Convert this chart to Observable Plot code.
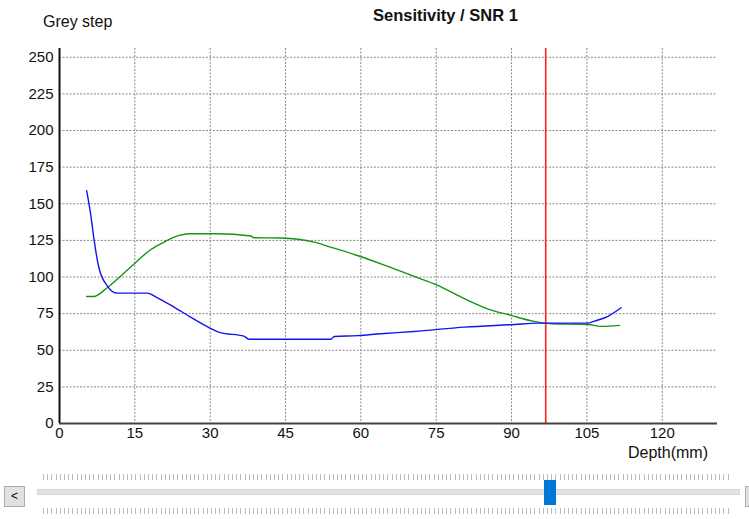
<!DOCTYPE html>
<html>
<head>
<meta charset="utf-8">
<script src="https://cdn.jsdelivr.net/npm/d3@7"></script>
<script src="https://cdn.jsdelivr.net/npm/@observablehq/plot@0.6"></script>
<style>
  html, body { margin: 0; padding: 0; background: #fff; }
  #wrap { position: relative; width: 749px; height: 519px; overflow: hidden; font-family: "Liberation Sans", Arial, sans-serif; }
  .lbl { position: absolute; font-size: 16px; line-height: 16px; color: #111; white-space: nowrap; }
  #title { font-weight: bold; font-size: 16.5px; }
  #chart { position: absolute; left: 0; top: 0; }
  .ticks { position: absolute; left: 43px; width: 688px; height: 6px;
    background: repeating-linear-gradient(to right, #bbb 0 1px, transparent 1px 4.2px); }
  #track { position: absolute; left: 37px; top: 489px; width: 703px; height: 6px; background: #e3e3e3; border: 1px solid #d6d6d6; box-sizing: border-box; }
  #thumb { position: absolute; left: 544px; top: 480px; width: 12px; height: 25px; background: #0078d7; }
  .btn { position: absolute; top: 486px; width: 21px; height: 21px; box-sizing: border-box; border: 1px solid #adadad; background: #e1e1e1; font-size: 12px; line-height: 19px; text-align: center; color: #000; }
</style>
</head>
<body>
<div id="wrap">
  <div id="chart"></div>
  <div class="lbl" id="ylab" style="left:43px; top:14px;">Grey step</div>
  <div class="lbl" id="title" style="left:373px; top:7px;">Sensitivity / SNR 1</div>
  <div class="lbl" id="xlab" style="left:628px; top:445px;">Depth(mm)</div>
  <div class="ticks" style="top:474px;"></div>
  <div id="track"></div>
  <div class="ticks" style="top:508px;"></div>
  <div id="thumb"></div>
  <div class="btn" style="left:4px;">&lt;</div>
  <div class="btn" style="left:745px;"></div>
</div>
<script>
const xTicks = [0, 15, 30, 45, 60, 75, 90, 105, 120];
const yTicks = [0, 25, 50, 75, 100, 125, 150, 175, 200, 225, 250];

const blueDepth = [5.4, 6.2, 6.9, 7.8, 9.5, 11.5, 17.5, 19.4, 22.8, 26.1, 29.5, 32, 36.7, 37.7, 54, 54.7, 59.3, 64, 70.6, 80.6, 90.6, 95.2, 105.2, 106.5, 109.1, 111.8];
const blueValue = [159, 143, 125, 107, 94, 89, 89, 86, 79.5, 72.6, 66, 62, 59.7, 57.5, 57.5, 59.4, 60, 61.3, 62.8, 65.8, 67.6, 68.5, 68.5, 69.9, 73, 79];

const greenDepth = [5.4, 6.8, 9.5, 13.8, 18.2, 20.8, 23.8, 25.8, 31.4, 38.1, 38.7, 44, 50.7, 54, 59.3, 64, 70.6, 75.3, 80.6, 85.2, 89.9, 94.5, 97.9, 105.2, 107.8, 111.5];
const greenValue = [86.7, 86.7, 92.7, 105.6, 118.8, 123.8, 128.4, 129.5, 129.5, 128, 126.8, 126.6, 123.8, 120.4, 114.7, 109, 100.4, 94.3, 85.2, 78.3, 73.8, 69.7, 68.1, 67.6, 66.3, 67];

const cursorDepth = [96.8];

const blue = blueDepth.map((d, i) => ({depth: d, value: blueValue[i]}));
const green = greenDepth.map((d, i) => ({depth: d, value: greenValue[i]}));

const chart = Plot.plot({
  width: 749,
  height: 470,
  marginLeft: 59,
  marginRight: 32,
  marginTop: 48,
  marginBottom: 47,
  style: { fontFamily: "'Liberation Sans', Arial, sans-serif", fontSize: "15px", color: "#111", background: "transparent" },
  x: { domain: [0, 131], label: null },
  y: { domain: [0, 256], label: null },
  marks: [
    Plot.gridX(xTicks, { stroke: "#8a8a8a", strokeOpacity: 1, strokeDasharray: "2,1.5" }),
    Plot.gridY(yTicks, { stroke: "#8a8a8a", strokeOpacity: 1, strokeDasharray: "2,1.5" }),
    Plot.axisX(xTicks, { tickSize: 0, tickPadding: 4, fontSize: 15 }),
    Plot.axisY(yTicks, { tickSize: 0, tickPadding: 6, fontSize: 15 }),
    Plot.ruleX(cursorDepth, { stroke: "#ff2020", strokeWidth: 1.6 }),
    Plot.line(green, { x: "depth", y: "value", stroke: "#139413", strokeWidth: 1.4, curve: "monotone-x" }),
    Plot.line(blue, { x: "depth", y: "value", stroke: "#1414f0", strokeWidth: 1.4, curve: "monotone-x" }),
    Plot.ruleY([0], { stroke: "#444", strokeWidth: 2 }),
    Plot.ruleX([0], { stroke: "#111", strokeWidth: 2 })
  ]
});
document.getElementById("chart").appendChild(chart);
</script>
</body>
</html>
